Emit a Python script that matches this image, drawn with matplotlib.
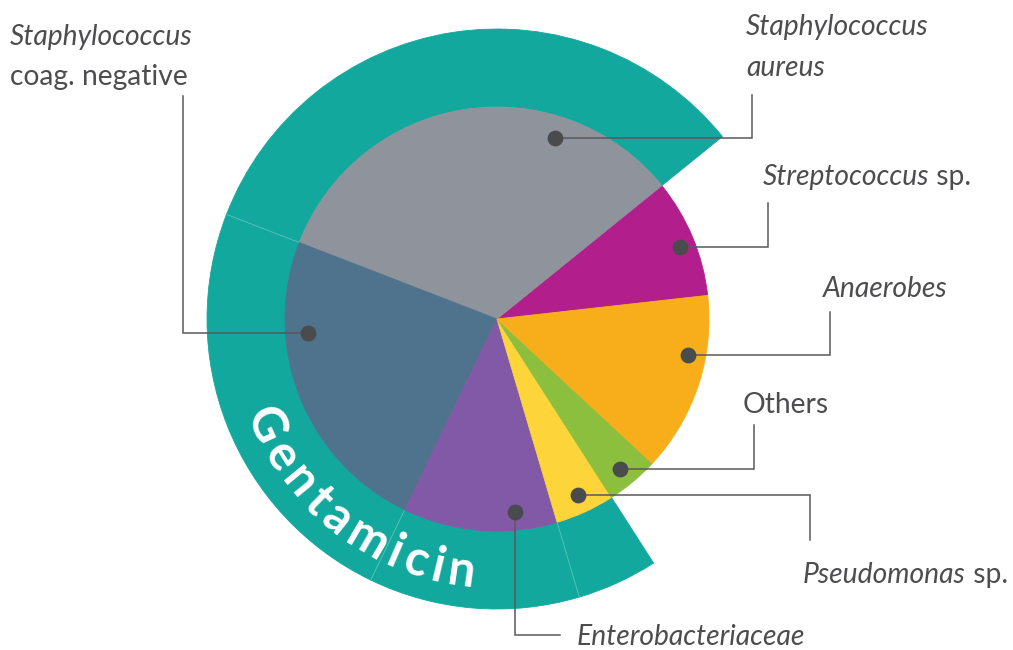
import numpy as np
import matplotlib
matplotlib.use('Agg')
import matplotlib.pyplot as plt
from matplotlib.font_manager import FontProperties
from matplotlib.textpath import text_to_path

# ---------------- data ----------------
categories = ['Streptococcus sp.', 'Staphylococcus aureus', 'Staphylococcus coag. negative',
              'Enterobacteriaceae', 'Pseudomonas sp.', 'Others', 'Anaerobes']
shares = [9.05, 33.3, 23.7, 11.75, 4.5, 4.0, 13.7]
gentamicin_flag = [0, 1, 1, 1, 1, 0, 0]
ring_label = 'Gentamicin'

# ---------------- styles / layout ----------------
W, H = 1013, 650
colors = ['#b21f8d', '#8f949c', '#4f728d', '#8159a6', '#fdd43a', '#8bbf3d', '#f8ae1b']
teal = '#13a89e'
sep_color = '#5cc3b9'
txt_color = '#4d4d4f'
line_color = '#58595b'
dot_color = '#4a4b4d'
CX, CY = 497, H - 319
R_IN, R_OUT = 212, 290
START = 6.4
FS = 20.3
LABEL_FONT = 'Lato'

def Y(y):
    return H - y

layout = {
    'Streptococcus sp.': dict(dot=(21.5, 197), kind='h', cx=768, ey=203,
                              lines=[[('Streptococcus', True), (' sp.', False)]], tx=763, ty=185, sp=40),
    'Staphylococcus aureus': dict(dot=(72.2, 190), kind='h', cx=752, ey=95,
                                  lines=[[('Staphylococcus', True)], [('aureus', True)]], tx=746, ty=35, sp=41),
    'Staphylococcus coag. negative': dict(dot=(184.2, 190), kind='h', cx=183, ey=96,
                                          lines=[[('Staphylococcus', True)], [('coag. negative', False)]], tx=10, ty=45, sp=40),
    'Enterobacteriaceae': dict(dot=(-84.7, 194), kind='v', cy=635, ex=560,
                               lines=[[('Enterobacteriaceae', True)]], tx=577, ty=645, sp=40),
    'Pseudomonas sp.': dict(dot=(-65.3, 194), kind='h', cx=810, ey=540,
                            lines=[[('Pseudomonas', True), (' sp.', False)]], tx=803, ty=583, sp=40),
    'Others': dict(dot=(-50.6, 194), kind='h', cx=754, ey=425,
                   lines=[[('Others', False)]], tx=743, ty=413, sp=40),
    'Anaerobes': dict(dot=(-10.7, 194), kind='h', cx=830, ey=312,
                      lines=[[('Anaerobes', True)]], tx=823, ty=297, sp=40),
}

fig = plt.figure(figsize=(W / 100, H / 100), dpi=100)
ax = fig.add_axes([0, 0, 1, 1])

# outer gentamicin ring
ring_colors = [teal if f else (0, 0, 0, 0) for f in gentamicin_flag]
ring_w, _ = ax.pie(shares, colors=ring_colors, startangle=START, counterclock=True,
                   radius=R_OUT, center=(CX, CY),
                   wedgeprops=dict(width=R_OUT - R_IN, linewidth=0))
for w, f in zip(ring_w, gentamicin_flag):
    if f:
        w.set_edgecolor(teal)
        w.set_linewidth(0.6)

# inner pie
pie_w, _ = ax.pie(shares, colors=colors, startangle=START, counterclock=True,
                  radius=R_IN, center=(CX, CY), wedgeprops=dict(linewidth=0))
for w in pie_w:
    w.set_edgecolor(w.get_facecolor())
    w.set_linewidth(0.6)

ax.set_xlim(0, W)
ax.set_ylim(0, H)
ax.set_aspect('equal')
ax.axis('off')

# faint separators between adjacent ring segments
total = sum(shares)
bounds = START + 360 * np.cumsum([0] + shares) / total
n = len(shares)
for i in range(n):
    j = (i + 1) % n
    if gentamicin_flag[i] and gentamicin_flag[j]:
        a = np.deg2rad(bounds[i + 1])
        ax.plot([CX + (R_IN + 1) * np.cos(a), CX + (R_OUT - 0.5) * np.cos(a)],
                [CY + (R_IN + 1) * np.sin(a), CY + (R_OUT - 0.5) * np.sin(a)],
                color=sep_color, lw=0.6, zorder=3)

# curved ring label
ring_fp = FontProperties(family='Lato', weight='bold', size=35)
widths = []
for ch in ring_label:
    w_, h_, d_ = text_to_path.get_text_width_height_descent(ch, ring_fp, ismath=False)
    widths.append(w_ * 100 / 72)
a0, a1 = 204.5, 262.0
r_c, r_b = 255.0, 270.0
L = np.deg2rad(a1 - a0) * r_c
inner = sum(widths) - widths[0] / 2 - widths[-1] / 2
track = (L - inner) / (len(ring_label) - 1)
s = 0.0
for k, ch in enumerate(ring_label):
    if k > 0:
        s += widths[k - 1] / 2 + track + widths[k] / 2
    th = a0 + np.rad2deg(s / r_c)
    t = np.deg2rad(th)
    ax.text(CX + r_b * np.cos(t), CY + r_b * np.sin(t), ch, fontproperties=ring_fp,
            color='white', rotation=(th + 90) % 360, rotation_mode='anchor',
            ha='center', va='baseline', zorder=5)

# labels, connectors, dots
renderer = fig.canvas.get_renderer()
inv = ax.transData.inverted()

for cat in categories:
    lay = layout[cat]
    ang, rr = lay['dot']
    t = np.deg2rad(ang)
    dx, dy = CX + rr * np.cos(t), CY + rr * np.sin(t)
    if lay['kind'] == 'h':
        xs = [dx, lay['cx'], lay['cx']]
        ys = [dy, dy, Y(lay['ey'])]
    else:
        xs = [dx, dx, lay['ex']]
        ys = [dy, Y(lay['cy']), Y(lay['cy'])]
    ax.plot(xs, ys, color=line_color, lw=1.1, zorder=6, solid_joinstyle='miter')
    ax.scatter([dx], [dy], s=130, color=dot_color, zorder=7, linewidths=0)
    for li, line in enumerate(lay['lines']):
        x = lay['tx']
        yb = Y(lay['ty'] + li * lay['sp'])
        for seg, ital in line:
            tt = ax.text(x, yb, seg, fontsize=FS, family=LABEL_FONT,
                         style='italic' if ital else 'normal',
                         color=txt_color, ha='left', va='baseline', zorder=8)
            bb = tt.get_window_extent(renderer)
            x = inv.transform((bb.x1, bb.y0))[0]

fig.savefig('out.png', dpi=100)
